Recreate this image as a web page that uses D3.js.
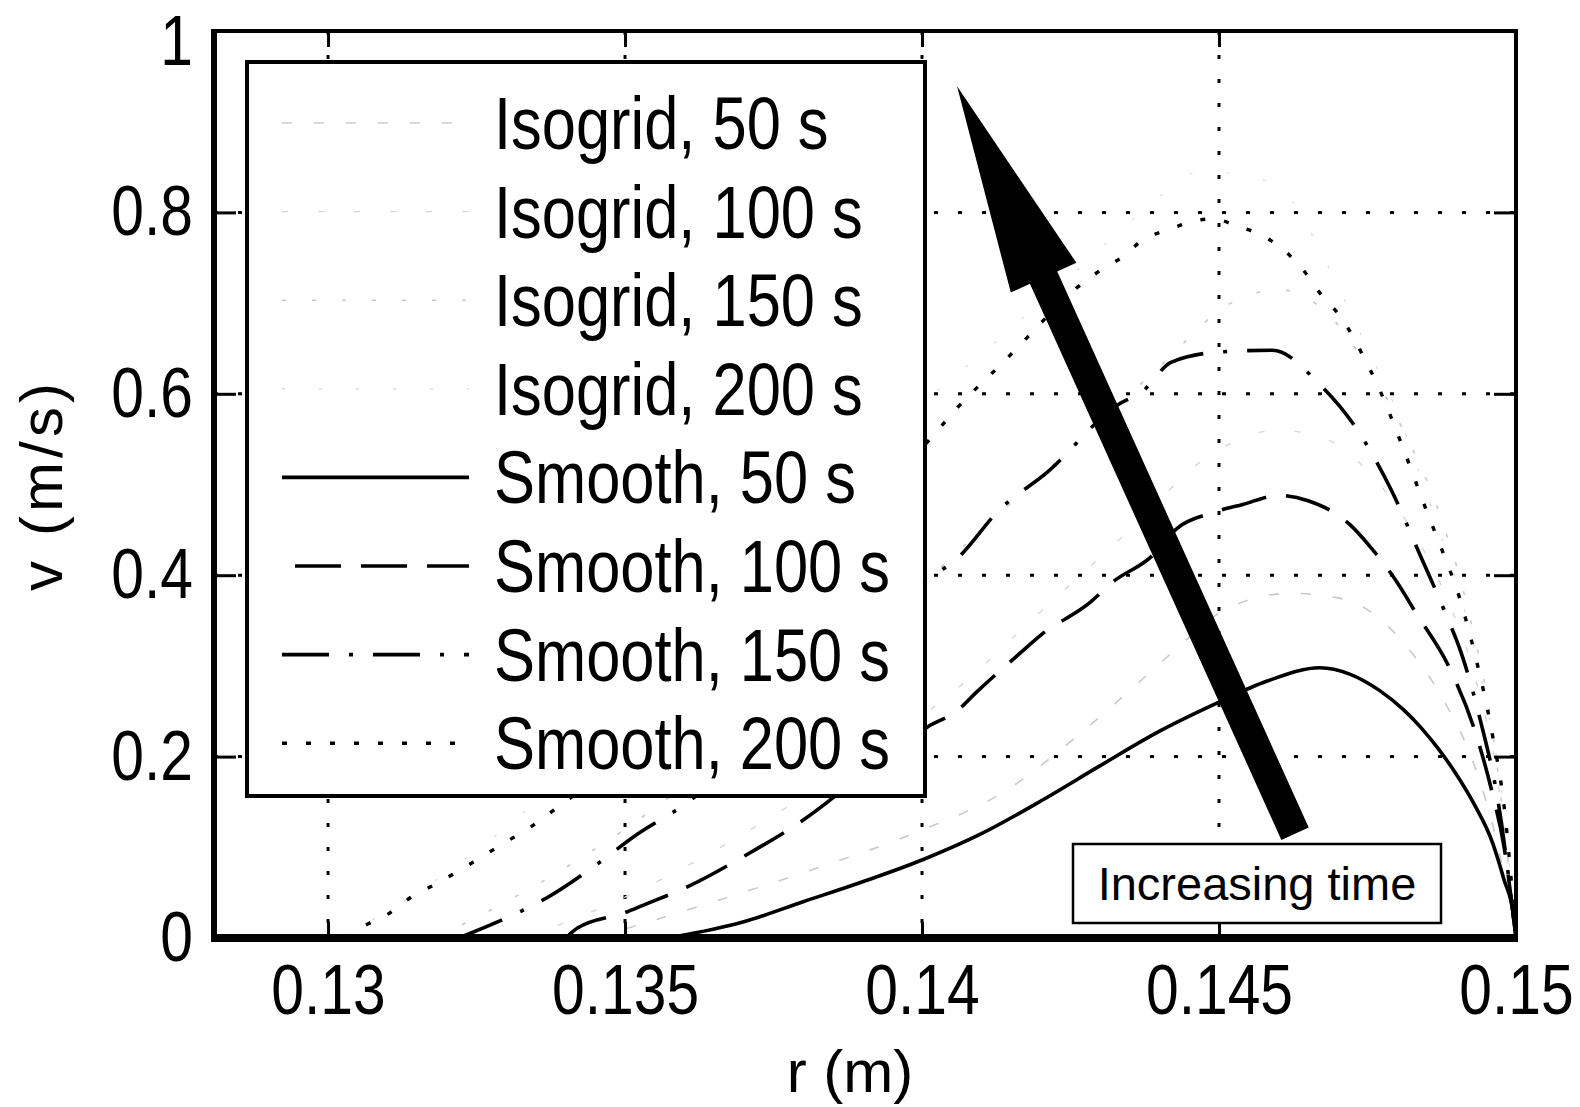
<!DOCTYPE html>
<html>
<head>
<meta charset="utf-8">
<script src="https://cdn.jsdelivr.net/npm/d3@7"></script>
<style>
  html, body { margin: 0; padding: 0; background: #fff; }
  svg { display: block; }
  .mat { font-family: "Liberation Sans", Arial, sans-serif; }
</style>
</head>
<body>
<svg id="chart" width="1580" height="1107"></svg>
<script>
// ---------------- data ----------------
const xTicks = [0.13, 0.135, 0.14, 0.145, 0.15];
const xTickLabels = ["0.13", "0.135", "0.14", "0.145", "0.15"];
const yTicks = [0, 0.2, 0.4, 0.6, 0.8, 1];
const yTickLabels = ["0", "0.2", "0.4", "0.6", "0.8", "1"];
const xGrid = [0.13, 0.135, 0.14, 0.145];
const yGrid = [0.2, 0.4, 0.6, 0.8];

const seriesNames = ["Isogrid, 50 s", "Isogrid, 100 s", "Isogrid, 150 s", "Isogrid, 200 s",
                     "Smooth, 50 s", "Smooth, 100 s", "Smooth, 150 s", "Smooth, 200 s"];

const isogrid50 = [[0.1345,0],[0.136,0.03],[0.138,0.072],[0.14,0.119],[0.1413,0.158],[0.1428,0.233],[0.1435,0.273],[0.1442,0.314],[0.1451,0.362],[0.1462,0.38],[0.147,0.375],[0.1475,0.362],[0.1482,0.318],[0.1488,0.26],[0.1493,0.19],[0.1497,0.1],[0.15,0]];
const isogrid100 = [[0.1333,0],[0.135,0.045],[0.137,0.115],[0.139,0.2],[0.1405,0.27],[0.142,0.36],[0.1435,0.45],[0.1448,0.53],[0.146,0.56],[0.1468,0.55],[0.1475,0.515],[0.1482,0.455],[0.1488,0.38],[0.1493,0.29],[0.1497,0.17],[0.15,0]];
const isogrid150 = [[0.1318,0],[0.133,0.04],[0.135,0.12],[0.137,0.22],[0.139,0.33],[0.141,0.45],[0.1426,0.545],[0.144,0.63],[0.1452,0.7],[0.146,0.715],[0.1468,0.69],[0.1475,0.63],[0.1481,0.56],[0.1487,0.47],[0.1492,0.36],[0.1496,0.23],[0.15,0]];
const isogrid200 = [[0.1302,0],[0.1315,0.05],[0.1335,0.15],[0.1355,0.28],[0.1375,0.42],[0.1395,0.56],[0.1412,0.655],[0.1425,0.73],[0.1437,0.8],[0.1447,0.845],[0.1455,0.84],[0.1462,0.815],[0.1468,0.745],[0.1475,0.65],[0.148,0.58],[0.1486,0.47],[0.1491,0.37],[0.1495,0.26],[0.1498,0.14],[0.15,0]];

const smooth50 = [[0.1357,0],[0.1365,0.01],[0.137,0.018],[0.138,0.04],[0.139,0.062],[0.14,0.086],[0.141,0.115],[0.142,0.151],[0.143,0.19],[0.144,0.228],[0.145,0.26],[0.1458,0.283],[0.1467,0.298],[0.1472,0.291],[0.1477,0.273],[0.1481,0.252],[0.1484,0.232],[0.1487,0.208],[0.149,0.18],[0.1493,0.147],[0.1496,0.106],[0.1498,0.064],[0.14995,0.028],[0.15,0]];
const smooth100 = [[0.134,0],[0.1342,0.011],[0.135,0.028],[0.1353,0.036],[0.1361,0.058],[0.137,0.09],[0.138,0.13],[0.139,0.18],[0.1401,0.233],[0.1406,0.251],[0.1409,0.27],[0.14165,0.314],[0.142,0.334],[0.14283,0.37],[0.1432,0.392],[0.14385,0.42],[0.1443,0.452],[0.1449,0.469],[0.1454,0.478],[0.146,0.488],[0.1465,0.482],[0.1472,0.456],[0.14755,0.431],[0.148,0.392],[0.1483,0.36],[0.1489,0.295],[0.1493,0.23],[0.1496,0.16],[0.1498,0.1],[0.15,0]];
const smooth150 = [[0.1322,0],[0.133,0.022],[0.1337,0.045],[0.1345,0.08],[0.1352,0.114],[0.136,0.147],[0.137,0.2],[0.138,0.26],[0.139,0.33],[0.1401,0.395],[0.1406,0.419],[0.1413,0.472],[0.1421,0.513],[0.1433,0.588],[0.1437,0.602],[0.1442,0.635],[0.145,0.646],[0.1459,0.648],[0.1467,0.61],[0.1473,0.563],[0.1479,0.494],[0.1484,0.42],[0.1488,0.36],[0.1491,0.31],[0.1494,0.24],[0.1497,0.15],[0.15,0]];
const smooth200 = [[0.1303,0],[0.1306,0.013],[0.131,0.026],[0.1314,0.045],[0.1318,0.059],[0.1322,0.074],[0.1326,0.09],[0.133,0.106],[0.1334,0.122],[0.1338,0.141],[0.135,0.2],[0.136,0.258],[0.137,0.325],[0.138,0.395],[0.139,0.47],[0.1402,0.555],[0.1406,0.585],[0.1414,0.637],[0.1418,0.664],[0.1425,0.711],[0.143,0.736],[0.1434,0.752],[0.1437,0.769],[0.1441,0.78],[0.1449,0.793],[0.1453,0.785],[0.1458,0.772],[0.1461,0.758],[0.1464,0.738],[0.1467,0.711],[0.1471,0.68],[0.1474,0.645],[0.1477,0.605],[0.1481,0.54],[0.1485,0.47],[0.1488,0.42],[0.149,0.385],[0.1493,0.315],[0.1496,0.225],[0.1498,0.145],[0.15,0]];

// annotation arrow (data coordinates): tail and tip
const arrowTail = [0.14628, 0.115];
const arrowTip = [0.14059, 0.939];
const annotationText = "Increasing time";

// ---------------- styles ----------------
const seriesData = [isogrid50, isogrid100, isogrid150, isogrid200, smooth50, smooth100, smooth150, smooth200];
const seriesStyle = [
  {stroke: "#c9c9c9", width: 1.6, dash: "10,22"},
  {stroke: "#d6d6d6", width: 1.4, dash: "6,30"},
  {stroke: "#c9c9c9", width: 1.6, dash: "4,26"},
  {stroke: "#dedede", width: 1.4, dash: "3,34"},
  {stroke: "#000", width: 3.6, dash: null},
  {stroke: "#000", width: 3.6, dash: "46,20"},
  {stroke: "#000", width: 3.6, dash: "47,20,4,20"},
  {stroke: "#000", width: 3.4, dash: "5,19"}
];

const plot = {left: 214, right: 1516, top: 31, bottom: 938};
const svg = d3.select("#chart");
const SX = 0.84; // horizontal squeeze of the MATLAB-style narrow font

const x = d3.scaleLinear().domain([0.12808, 0.15]).range([plot.left, plot.right]);
const y = d3.scaleLinear().domain([0, 1]).range([plot.bottom, plot.top]);

// grid
const grid = svg.append("g");
grid.selectAll("line.gx").data(xGrid).join("line")
  .attr("x1", d => x(d)).attr("x2", d => x(d))
  .attr("y1", plot.top).attr("y2", plot.bottom)
  .attr("stroke", "#000").attr("stroke-width", 3).attr("stroke-dasharray", "4,20");
grid.selectAll("line.gy").data(yGrid).join("line")
  .attr("y1", d => y(d)).attr("y2", d => y(d))
  .attr("x1", plot.left).attr("x2", plot.right)
  .attr("stroke", "#000").attr("stroke-width", 3).attr("stroke-dasharray", "4,20");

// curves
svg.append("clipPath").attr("id", "clip").append("rect")
  .attr("x", plot.left).attr("y", plot.top)
  .attr("width", plot.right - plot.left).attr("height", plot.bottom - plot.top);
const line = d3.line().x(d => x(d[0])).y(d => y(d[1])).curve(d3.curveMonotoneX);
const curves = svg.append("g").attr("clip-path", "url(#clip)");
seriesData.forEach((s, i) => {
  const st = seriesStyle[i];
  curves.append("path").datum(s)
    .attr("d", line)
    .attr("fill", "none")
    .attr("stroke", st.stroke)
    .attr("stroke-width", st.width)
    .attr("stroke-dasharray", st.dash);
});

// axes
const yAxis = d3.axisLeft(y).tickValues(yTicks).tickSize(-22).tickPadding(21)
  .tickFormat((d, i) => yTickLabels[i]);
const yAxisR = d3.axisRight(y).tickValues(yTicks).tickSize(-22).tickFormat("");
const xAxis = d3.axisBottom(x).tickValues(xTicks).tickSize(-16).tickPadding(26)
  .tickFormat((d, i) => xTickLabels[i]);
const xAxisT = d3.axisTop(x).tickValues(xTicks).tickSize(-16).tickFormat("");

const gy = svg.append("g").attr("transform", `translate(${plot.left},0)`).call(yAxis);
svg.append("g").attr("transform", `translate(${plot.right},0)`).call(yAxisR);
const gx = svg.append("g").attr("transform", `translate(0,${plot.bottom})`).call(xAxis);
svg.append("g").attr("transform", `translate(0,${plot.top})`).call(xAxisT);
svg.selectAll(".domain").remove();
svg.selectAll(".tick line").attr("stroke", "#000").attr("stroke-width", 3);
gy.selectAll("text").attr("class", "mat").attr("font-size", 70).attr("fill", "#000")
  .attr("x", -21 / SX).attr("dy", d => d === 1 ? "0.48em" : "0.32em")
  .attr("transform", `scale(${SX},1)`);
gx.selectAll("text").attr("class", "mat").attr("font-size", 70).attr("fill", "#000")
  .attr("transform", `scale(${SX},1)`);

// frame
svg.append("rect").attr("x", plot.left).attr("y", plot.top)
  .attr("width", plot.right - plot.left).attr("height", plot.bottom - plot.top)
  .attr("fill", "none").attr("stroke", "#000").attr("stroke-width", 4);
svg.append("line").attr("x1", plot.left - 3).attr("x2", plot.right + 2)
  .attr("y1", plot.bottom).attr("y2", plot.bottom).attr("stroke", "#000").attr("stroke-width", 8);
svg.append("line").attr("x1", plot.left).attr("x2", plot.left)
  .attr("y1", plot.top - 2).attr("y2", plot.bottom).attr("stroke", "#000").attr("stroke-width", 6);

// axis labels
svg.append("text").attr("class", "mat")
  .attr("transform", "translate(62,487) rotate(-90)")
  .attr("text-anchor", "middle").attr("font-size", 60)
  .attr("textLength", 208).attr("lengthAdjust", "spacing").text("v (m/s)");
svg.append("text").attr("class", "mat")
  .attr("x", 850).attr("y", 1092)
  .attr("text-anchor", "middle").attr("font-size", 60).text("r (m)");

// legend
const leg = svg.append("g");
leg.append("rect").attr("x", 247).attr("y", 62).attr("width", 678).attr("height", 734)
  .attr("fill", "#fff").attr("stroke", "#000").attr("stroke-width", 4);
seriesNames.forEach((name, i) => {
  const cy = 123 + i * 88.6;
  const st = seriesStyle[i];
  leg.append("line").attr("x1", i === 5 ? 295 : 282).attr("x2", 469).attr("y1", cy).attr("y2", cy)
    .attr("stroke", st.stroke).attr("stroke-width", st.width)
    .attr("stroke-dasharray", st.dash);
  leg.append("text").attr("class", "mat")
    .attr("transform", `translate(494,${cy + 26}) scale(0.83,1)`)
    .attr("font-size", 74).attr("fill", "#000").text(name);
});

// arrow annotation
(function () {
  const tx = x(arrowTail[0]), ty = y(arrowTail[1]);
  const hx = x(arrowTip[0]), hy = y(arrowTip[1]);
  const dx = hx - tx, dy = hy - ty, len = Math.hypot(dx, dy);
  const ux = dx / len, uy = dy / len, px = -uy, py = ux;
  const shaftW = 15, headW = 36, headL = 210;
  const bx = hx - ux * headL, by = hy - uy * headL;
  const pts = [
    [tx + px * shaftW, ty + py * shaftW],
    [bx + px * shaftW, by + py * shaftW],
    [bx + px * headW, by + py * headW],
    [hx, hy],
    [bx - px * headW, by - py * headW],
    [bx - px * shaftW, by - py * shaftW],
    [tx - px * shaftW, ty - py * shaftW]
  ];
  svg.append("polygon").attr("points", pts.map(p => p.join(",")).join(" ")).attr("fill", "#000");
})();

// annotation box
svg.append("rect").attr("x", 1073).attr("y", 844).attr("width", 368).attr("height", 79)
  .attr("fill", "#fff").attr("stroke", "#000").attr("stroke-width", 2.5);
svg.append("text").attr("x", 1257).attr("y", 900).attr("text-anchor", "middle")
  .attr("font-family", "Liberation Sans, Arial, sans-serif").attr("font-size", 47)
  .text(annotationText);
</script>
</body>
</html>
